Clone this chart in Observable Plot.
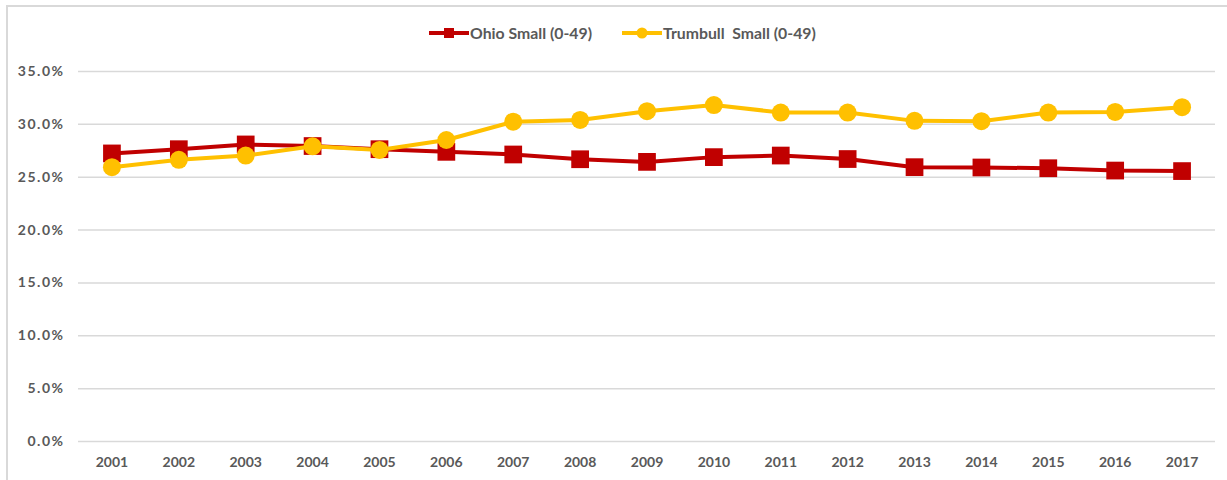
<!DOCTYPE html>
<html>
<head>
<meta charset="utf-8">
<script src="https://cdn.jsdelivr.net/npm/d3@7"></script>
<script src="https://cdn.jsdelivr.net/npm/@observablehq/plot@0.6"></script>
<style>
  html, body { margin: 0; padding: 0; background: #fff; overflow: hidden; }
  #wrap { position: relative; width: 1227px; height: 480px; font-family: Lato, "Open Sans", sans-serif; }
  #frame { position: absolute; left: 6px; top: 5px; width: 1260px; height: 520px; border: 2px solid #d9d9d9; box-sizing: border-box; }
  #legend { position: absolute; left: 0; top: 0; width: 1227px; height: 50px; }
  #legend .item { position: absolute; top: 23px; display: flex; align-items: center; font-weight: 700; font-size: 15.8px; color: #595959; white-space: pre; }
  #chart { position: absolute; left: 0; top: 50px; }
  #chart [aria-label="y-axis tick label"] text { letter-spacing: 1.5px; }
</style>
</head>
<body>
<div id="wrap">
  <div id="frame"></div>
  <div id="legend"></div>
  <div id="chart"></div>
</div>
<script>
const years = ["2001","2002","2003","2004","2005","2006","2007","2008","2009","2010","2011","2012","2013","2014","2015","2016","2017"];
const seriesNames = ["Ohio Small (0-49)", "Trumbull  Small (0-49)"];
const seriesColors = ["#C00000", "#FFC000"];
const ohioSmall = [0.2725, 0.2765, 0.2810, 0.2795, 0.2765, 0.2740, 0.2715, 0.2670, 0.2645, 0.2690, 0.2705, 0.2672, 0.2595, 0.2592, 0.2585, 0.2563, 0.2558];
const trumbullSmall = [0.2595, 0.2665, 0.2705, 0.2792, 0.2758, 0.2852, 0.3025, 0.3042, 0.3125, 0.3183, 0.3112, 0.3112, 0.3033, 0.3030, 0.3112, 0.3118, 0.3162];
const yTicks = [0, 0.05, 0.10, 0.15, 0.20, 0.25, 0.30, 0.35];

const ohio = years.map((y, i) => ({year: y, value: ohioSmall[i]}));
const trumbull = years.map((y, i) => ({year: y, value: trumbullSmall[i]}));

const chart = Plot.plot({
  width: 1227,
  height: 430,
  marginLeft: 78,
  marginRight: 12,
  marginTop: 21,
  marginBottom: 39,
  style: { fontFamily: "Lato, 'Open Sans', sans-serif", fontSize: "14px", fontWeight: 700, color: "#595959", background: "transparent" },
  x: { type: "point", domain: years, padding: 0.5, align: 0.5, round: false, label: null, tickSize: 0, tickPadding: 16 },
  y: { domain: [0, 0.35], ticks: yTicks, tickFormat: d3.format(".1%"), label: null, tickSize: 0, tickPadding: 14 },
  marks: [
    Plot.ruleY(yTicks, { stroke: "#d9d9d9", strokeWidth: 1.5 }),
    Plot.line(ohio, { x: "year", y: "value", stroke: seriesColors[0], strokeWidth: 4 }),
    Plot.dot(ohio, { x: "year", y: "value", symbol: "square", r: 10, fill: seriesColors[0] }),
    Plot.line(trumbull, { x: "year", y: "value", stroke: seriesColors[1], strokeWidth: 4 }),
    Plot.dot(trumbull, { x: "year", y: "value", symbol: "circle", r: 9, fill: seriesColors[1] })
  ]
});
document.getElementById("chart").appendChild(chart);

// legend
const legend = document.getElementById("legend");
const legendX = [428, 621];
const markerSvg = [
  `<svg width="42" height="18"><line x1="1" y1="9" x2="41" y2="9" stroke="${seriesColors[0]}" stroke-width="4"/><rect x="16" y="4" width="10" height="10" fill="${seriesColors[0]}"/></svg>`,
  `<svg width="42" height="18"><line x1="1" y1="9" x2="41" y2="9" stroke="${seriesColors[1]}" stroke-width="4"/><circle cx="21" cy="9" r="5.5" fill="${seriesColors[1]}"/></svg>`
];
seriesNames.forEach((name, i) => {
  const d = document.createElement("div");
  d.className = "item";
  d.style.left = legendX[i] + "px";
  d.innerHTML = markerSvg[i] + `<span>${name}</span>`;
  legend.appendChild(d);
});
</script>
</body>
</html>
